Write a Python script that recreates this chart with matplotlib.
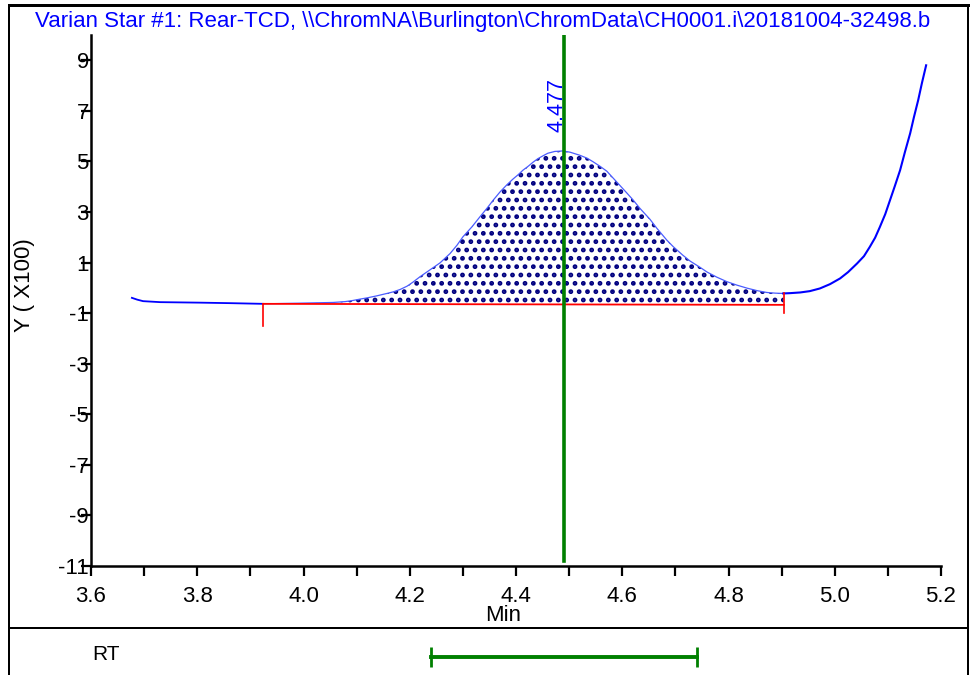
import numpy as np
import matplotlib
matplotlib.use('Agg')
import matplotlib.pyplot as plt
from matplotlib.ticker import MultipleLocator, FormatStrFormatter
from matplotlib.lines import Line2D

plt.rcParams['font.family'] = ['Liberation Sans', 'DejaVu Sans']
plt.rcParams['hatch.linewidth'] = 2.2

title = r'Varian Star #1: Rear-TCD, \\ChromNA\Burlington\ChromData\CH0001.i\20181004-32498.b'

# trace (Min, Y x100)
time = [3.677, 3.687, 3.698, 3.730, 3.805, 3.862, 3.924, 3.993, 4.056, 4.078,
        4.091, 4.106, 4.120, 4.138, 4.157, 4.169, 4.182, 4.195, 4.206, 4.219,
        4.238, 4.257, 4.276, 4.289, 4.300, 4.317, 4.332, 4.345, 4.357, 4.370,
        4.383, 4.394, 4.404, 4.413, 4.423, 4.432, 4.441, 4.451, 4.460, 4.473,
        4.488, 4.502, 4.520, 4.534, 4.545, 4.558, 4.571, 4.590, 4.609, 4.620,
        4.633, 4.652, 4.665, 4.684, 4.696, 4.714, 4.728, 4.746, 4.760, 4.778,
        4.797, 4.816, 4.835, 4.854, 4.872, 4.888, 4.903, 4.916, 4.935, 4.953,
        4.972, 4.991, 5.010, 5.025, 5.042, 5.055, 5.066, 5.076, 5.085, 5.095,
        5.104, 5.113, 5.123, 5.132, 5.142, 5.149, 5.157, 5.164, 5.172]
signal = [-0.395, -0.466, -0.526, -0.565, -0.585, -0.605, -0.632, -0.605, -0.577, -0.545,
          -0.506, -0.447, -0.395, -0.316, -0.221, -0.158, -0.063, 0.067, 0.225, 0.435,
          0.711, 0.988, 1.360, 1.688, 2.016, 2.411, 2.807, 3.138, 3.466, 3.795,
          4.079, 4.297, 4.474, 4.652, 4.810, 4.968, 5.107, 5.225, 5.324, 5.395,
          5.415, 5.364, 5.245, 5.127, 4.988, 4.810, 4.613, 4.178, 3.743, 3.486,
          3.150, 2.716, 2.360, 1.885, 1.629, 1.292, 1.055, 0.818, 0.621, 0.423,
          0.245, 0.107, -0.012, -0.111, -0.182, -0.209, -0.221, -0.209, -0.182, -0.130,
          -0.024, 0.146, 0.372, 0.621, 0.964, 1.253, 1.621, 1.984, 2.411, 2.913,
          3.466, 4.020, 4.652, 5.364, 6.115, 6.747, 7.419, 8.091, 8.802]

# integration baseline (start, end)
base_t = [3.924, 4.904]
base_y = [-0.632, -0.672]
peak_rt = 4.477
peak_line = 4.49
rt_window = [4.24, 4.74]

yticks = [9, 7, 5, 3, 1, -1, -3, -5, -7, -9, -11]

fig = plt.figure(figsize=(9.71, 6.75), dpi=100)
ax = fig.add_axes([91/971, 109/675, 850/971, 531/675])

t = np.array(time)
s = np.array(signal)
inpk = (t >= base_t[0]) & (t <= base_t[1])

# shaded peak area
px = list(t[inpk]) + [base_t[1], base_t[0]]
py = list(s[inpk]) + [base_y[1], base_y[0]]
ax.fill(px, py, facecolor='none', edgecolor='#000080', hatch='..', linewidth=0)

# trace: thin inside the peak, heavier outside
ax.plot(t[t <= base_t[0]], s[t <= base_t[0]], color='#0000ff', lw=1.3)
ax.plot(t[inpk], s[inpk], color='#4a5cff', lw=0.9)
ax.plot(t[t >= 4.903], s[t >= 4.903], color='#0000ff', lw=1.5)

# baseline with drop marks
ax.plot(base_t, base_y, color='red', lw=1.3)
ax.plot([base_t[0], base_t[0]], [s[t == base_t[0]][0], -1.5], color='red', lw=1.2)
ax.plot([base_t[1], base_t[1]], [s[t == 4.903][0], -1.0], color='red', lw=1.2)

# retention time marker
ax.plot([peak_line, peak_line], [10, -10.8], color='#008000', lw=2.6)
ax.text(peak_rt, 6.15, '%.3f' % peak_rt, rotation=90, ha='center', va='bottom',
        color='#0000ff', fontsize=15.5)

ax.set_xlim(3.6, 5.2)
ax.set_ylim(-11, 10)
ax.xaxis.set_major_locator(MultipleLocator(0.2))
ax.xaxis.set_minor_locator(MultipleLocator(0.1))
ax.xaxis.set_major_formatter(FormatStrFormatter('%.1f'))
ax.set_yticks(yticks)
ax.set_yticklabels([str(v) for v in yticks])

for sp in ['top', 'right']:
    ax.spines[sp].set_visible(False)
for sp in ['left', 'bottom']:
    ax.spines[sp].set_linewidth(1.8)
ax.tick_params(axis='both', which='both', direction='out', length=7.5, width=1.6, labelsize=16)
ax.tick_params(axis='x', which='both', pad=7)
ax.tick_params(axis='y', pad=-6)

ax.set_xlabel('Min', fontsize=16, va='center')
ax.xaxis.set_label_coords(0.485, -0.093)
ax.set_ylabel('Y ( X100)', fontsize=16, va='center')
ax.yaxis.set_label_coords(-0.078, 0.529)

fig.text(482.5/971, 1 - 21/675, title, ha='center', va='center', color='#0000ff', fontsize=16)

# RT panel
ax2 = fig.add_axes([91/971, 0, 850/971, 47/675])
ax2.set_xlim(3.6, 5.2)
ax2.set_ylim(0, 1)
ax2.axis('off')
ax2.plot(rt_window, [0.38, 0.38], color='#008000', lw=2.8, marker='|', ms=14, mew=2)
fig.text(106/971, 1 - 655/675, 'RT', ha='center', va='center', fontsize=15)

# frame
for xs, ys, w in [([8.5, 968], [5, 5], 3), ([8.5, 8.5], [5, 675], 2),
                  ([968, 968], [5, 675], 2), ([8.5, 968], [628, 628], 2)]:
    fig.add_artist(Line2D([x/971 for x in xs], [1 - y/675 for y in ys],
                          color='black', lw=w*0.72))

fig.savefig('out.png', dpi=100)
